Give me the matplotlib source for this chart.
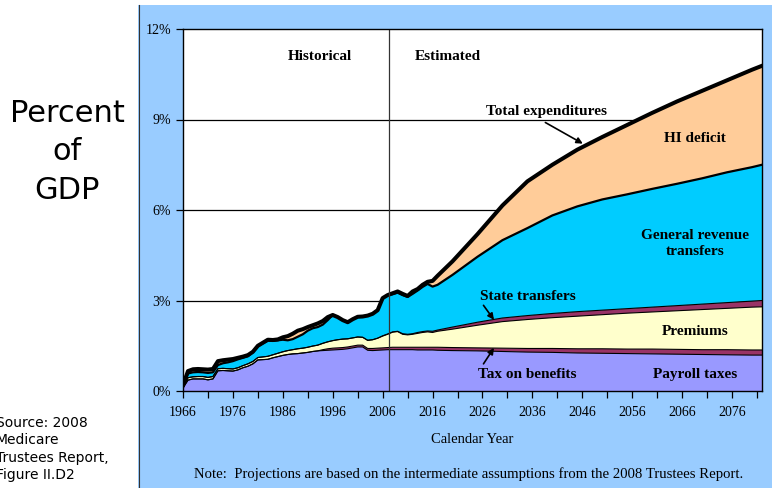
import numpy as np
import matplotlib
matplotlib.use('Agg')
import matplotlib.pyplot as plt
from matplotlib.patches import Rectangle
from matplotlib.lines import Line2D

# Medicare sources of income as percent of GDP (cumulative layer tops)
years = list(range(1966, 2008)) + [2008, 2009, 2010, 2011, 2012, 2013, 2014, 2015, 2016, 2017,
                                   2020, 2025, 2030, 2035, 2040, 2045, 2050, 2055, 2060,
                                   2065, 2070, 2075, 2080, 2082]

payroll_top = [0.10, 0.36, 0.40, 0.40, 0.40, 0.37, 0.40, 0.67, 0.68, 0.67,
               0.66, 0.70, 0.77, 0.82, 0.90, 1.03, 1.04, 1.05, 1.10, 1.14,
               1.18, 1.21, 1.23, 1.24, 1.26, 1.28, 1.31, 1.33, 1.34, 1.35,
               1.36, 1.37, 1.38, 1.40, 1.43, 1.46, 1.46, 1.35, 1.34, 1.35,
               1.36, 1.37,
               1.37, 1.37, 1.37, 1.37, 1.37, 1.36, 1.36, 1.36, 1.36, 1.35,
               1.34, 1.33, 1.31, 1.29, 1.28, 1.26, 1.25, 1.24, 1.23,
               1.22, 1.21, 1.20, 1.19, 1.19]

taxben_top = [0.10, 0.36, 0.40, 0.40, 0.40, 0.37, 0.40, 0.67, 0.68, 0.67,
              0.66, 0.70, 0.77, 0.82, 0.90, 1.03, 1.04, 1.05, 1.10, 1.14,
              1.18, 1.21, 1.23, 1.24, 1.26, 1.28, 1.31, 1.33, 1.37, 1.40,
              1.42, 1.43, 1.44, 1.46, 1.49, 1.52, 1.52, 1.41, 1.41, 1.42,
              1.43, 1.44,
              1.45, 1.45, 1.45, 1.45, 1.45, 1.45, 1.45, 1.45, 1.45, 1.45,
              1.44, 1.43, 1.42, 1.41, 1.41, 1.40, 1.40, 1.39, 1.39,
              1.38, 1.37, 1.37, 1.36, 1.36]

premium_top = [0.12, 0.44, 0.47, 0.48, 0.48, 0.45, 0.48, 0.74, 0.75, 0.74,
               0.73, 0.77, 0.84, 0.90, 0.98, 1.11, 1.13, 1.15, 1.20, 1.25,
               1.30, 1.34, 1.37, 1.40, 1.42, 1.45, 1.49, 1.52, 1.58, 1.63,
               1.67, 1.70, 1.72, 1.73, 1.76, 1.79, 1.78, 1.68, 1.70, 1.75,
               1.82, 1.88,
               1.95, 1.97, 1.88, 1.86, 1.88, 1.91, 1.94, 1.96, 1.94, 1.98,
               2.05, 2.18, 2.30, 2.37, 2.43, 2.48, 2.53, 2.58, 2.62,
               2.66, 2.70, 2.74, 2.78, 2.79]

state_top = [0.12, 0.44, 0.47, 0.48, 0.48, 0.45, 0.48, 0.74, 0.75, 0.74,
             0.73, 0.77, 0.84, 0.90, 0.98, 1.11, 1.13, 1.15, 1.20, 1.25,
             1.30, 1.34, 1.37, 1.40, 1.42, 1.45, 1.49, 1.52, 1.58, 1.63,
             1.67, 1.70, 1.72, 1.73, 1.76, 1.79, 1.78, 1.68, 1.70, 1.75,
             1.83, 1.89,
             1.96, 1.98, 1.90, 1.88, 1.90, 1.94, 1.97, 1.99, 1.98, 2.02,
             2.12, 2.28, 2.42, 2.50, 2.57, 2.63, 2.68, 2.73, 2.78,
             2.83, 2.88, 2.93, 2.98, 3.00]

genrev_top = [0.15, 0.58, 0.62, 0.63, 0.62, 0.60, 0.62, 0.86, 0.92, 0.95,
              0.99, 1.05, 1.10, 1.15, 1.28, 1.48, 1.58, 1.67, 1.66, 1.68,
              1.70, 1.68, 1.72, 1.80, 1.88, 2.00, 2.08, 2.12, 2.20, 2.35,
              2.52, 2.45, 2.35, 2.28, 2.38, 2.46, 2.47, 2.50, 2.56, 2.68,
              3.08, 3.18,
              3.21, 3.26, 3.18, 3.12, 3.22, 3.33, 3.45, 3.55, 3.46, 3.52,
              3.85, 4.45, 5.00, 5.40, 5.82, 6.12, 6.35, 6.52, 6.70,
              6.87, 7.05, 7.25, 7.42, 7.50]

total_exp = [0.20, 0.66, 0.72, 0.73, 0.72, 0.71, 0.73, 0.99, 1.02, 1.04,
             1.06, 1.10, 1.14, 1.19, 1.30, 1.50, 1.60, 1.70, 1.69, 1.71,
             1.78, 1.82, 1.90, 2.00, 2.05, 2.12, 2.18, 2.24, 2.32, 2.45,
             2.52, 2.45, 2.35, 2.28, 2.38, 2.46, 2.47, 2.50, 2.56, 2.68,
             3.08, 3.18,
             3.24, 3.30, 3.22, 3.15, 3.30, 3.38, 3.52, 3.62, 3.65, 3.82,
             4.30, 5.20, 6.15, 6.95, 7.50, 8.00, 8.42, 8.82, 9.22,
             9.60, 9.95, 10.30, 10.65, 10.78]

layer_names = ['Payroll taxes', 'Tax on benefits', 'Premiums', 'State transfers',
               'General revenue transfers', 'HI deficit']
layer_colors = ['#9999FF', '#993366', '#FFFFCC', '#993366', '#00CCFF', '#FFCC99']

x = np.array(years)
tops = [np.array(payroll_top), np.array(taxben_top), np.array(premium_top),
        np.array(state_top), np.array(genrev_top), np.array(total_exp)]

W, H = 772, 488
fig = plt.figure(figsize=(W / 100, H / 100), dpi=100)
fig.patch.set_facecolor('white')

# light blue panel behind the chart
fig.patches.append(Rectangle((138 / W, 0), 1 - 138 / W, 1 - 5 / H, transform=fig.transFigure,
                             facecolor='#99CCFF', edgecolor='none', zorder=-10))
fig.lines.append(Line2D([138.5 / W, 138.5 / W], [0, 1 - 5 / H], transform=fig.transFigure,
                        color='#333333', lw=0.8, zorder=-9))

ax = fig.add_axes([183 / W, 1 - 391 / H, (762 - 183) / W, (391 - 29) / H])
ax.set_zorder(2)
ax.set_facecolor('white')

serif = 'Liberation Serif'

# gridlines under the areas
for g in [3, 6, 9]:
    ax.axhline(g, color='black', lw=0.9, zorder=1)

bottom = np.zeros(len(x))
for top, col in zip(tops, layer_colors):
    ax.fill_between(x, bottom, top, facecolor=col, edgecolor='none', zorder=2)
    bottom = top

# outlines between layers
for top in tops[:4]:
    ax.plot(x, top, color='black', lw=0.8, zorder=3)
ax.plot(x, tops[4], color='black', lw=1.6, zorder=3)
ax.plot(x, tops[5], color='black', lw=2.9, zorder=4, solid_joinstyle='round')

# historical / estimated divider
ax.axvline(2007.25, color='#333333', lw=0.9, zorder=5)

ax.set_xlim(1966, 2082)
ax.set_ylim(0, 12)
ax.set_yticks([0, 3, 6, 9, 12])
ax.set_yticklabels(['0%', '3%', '6%', '9%', '12%'], fontfamily=serif, fontsize=10)
ax.set_xticks(np.arange(1966, 2083, 10))
ax.set_xticks(np.arange(1971, 2083, 10), minor=True)
ax.set_xticklabels([str(v) for v in range(1966, 2083, 10)], fontfamily=serif, fontsize=10)
ax.tick_params(axis='both', which='both', direction='out', length=5, width=0.9, colors='black')
ax.tick_params(axis='x', which='major', pad=6)
for s in ax.spines.values():
    s.set_color('black')
    s.set_linewidth(1.0)
    s.set_zorder(6)

ax.set_xlabel('Calendar Year', fontfamily=serif, fontsize=10.5, labelpad=10)

bold = dict(fontfamily=serif, fontsize=11, fontweight='bold', ha='center', va='center', zorder=7)
ax.text(1993.5, 11.1, 'Historical', **bold)
ax.text(2019.0, 11.1, 'Estimated', **bold)
ax.text(2038.8, 9.28, 'Total expenditures', **bold)
ax.text(2068.6, 8.38, 'HI deficit', **bold)
ax.text(2068.6, 4.9, 'General revenue\ntransfers', linespacing=1.3, **bold)
ax.text(2035.0, 3.12, 'State transfers', **bold)
ax.text(2068.6, 1.98, 'Premiums', **bold)
ax.text(2035.0, 0.56, 'Tax on benefits', **bold)
ax.text(2068.6, 0.56, 'Payroll taxes', **bold)

arrow = dict(arrowstyle='-|>', color='black', lw=1.2, mutation_scale=9, shrinkA=0, shrinkB=0)
ax.annotate('', xy=(2046.1, 8.2), xytext=(2038.6, 8.9), arrowprops=arrow, zorder=7)
ax.annotate('', xy=(2028.3, 2.36), xytext=(2026.2, 2.84), arrowprops=arrow, zorder=7)
ax.annotate('', xy=(2028.3, 1.43), xytext=(2026.2, 0.9), arrowprops=arrow, zorder=7)

fig.text(469 / W, 1 - 474 / H,
         'Note:  Projections are based on the intermediate assumptions from the 2008 Trustees Report.',
         fontfamily=serif, fontsize=10.6, ha='center', va='center')

fig.text(67 / W, 1 - 152 / H, 'Percent\nof\nGDP', fontfamily='DejaVu Sans', fontsize=22,
         ha='center', va='center', linespacing=1.4)
fig.text(-4 / W, 1 - 449 / H, 'Source: 2008\nMedicare\nTrustees Report,\nFigure II.D2',
         fontfamily='DejaVu Sans', fontsize=10, ha='left', va='center', linespacing=1.32)

fig.savefig('out.png', dpi=100)
